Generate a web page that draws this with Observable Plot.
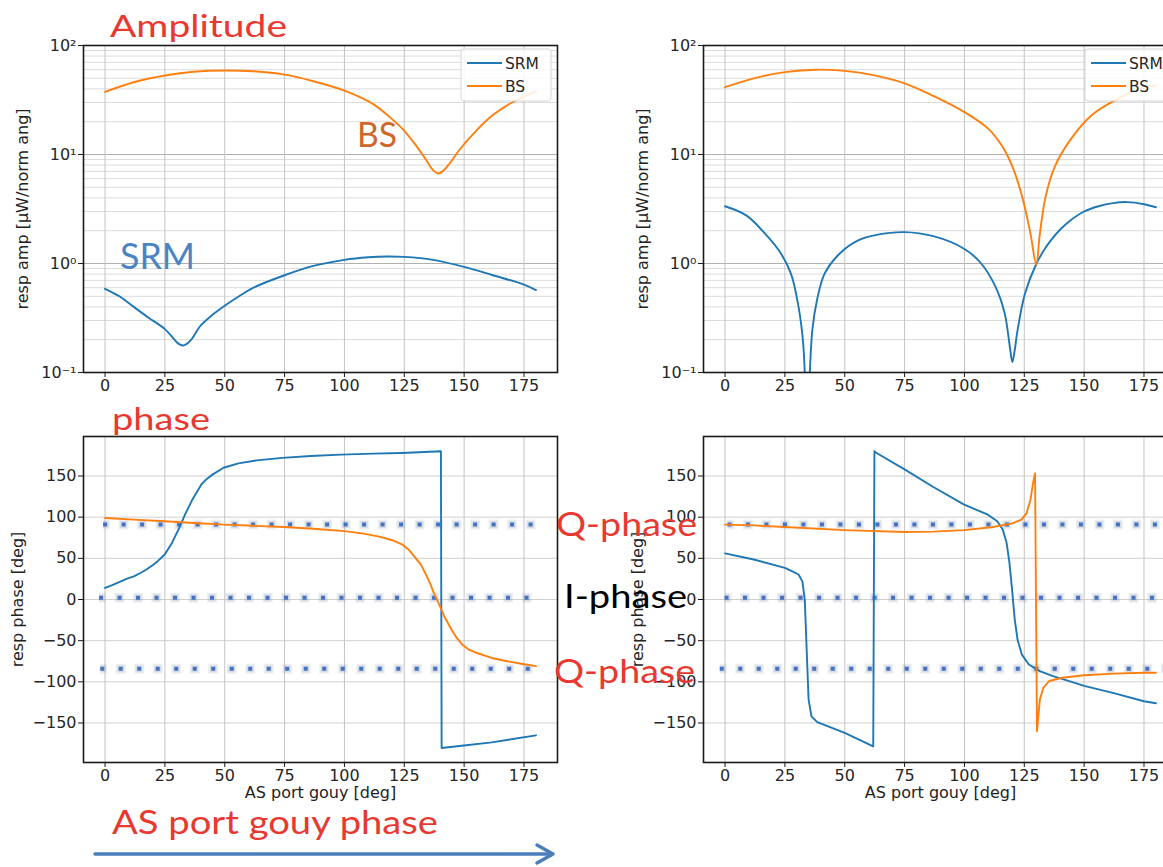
<!DOCTYPE html>
<html>
<head>
<meta charset="utf-8">
<script src="https://cdn.jsdelivr.net/npm/d3@7"></script>
<script src="https://cdn.jsdelivr.net/npm/@observablehq/plot@0.6"></script>
<style>
html, body { margin: 0; padding: 0; background: #fff; overflow: hidden; width: 1163px; height: 867px; }
#root { position: relative; width: 1163px; height: 867px; overflow: hidden; background: #fff; }
.panel { position: absolute; }
#overlay { position: absolute; left: 0; top: 0; z-index: 5; }
</style>
</head>
<body>
<div id="root"></div>
<script>
// ---------------- data ----------------
const seriesNames = ["SRM", "BS"];
const xTicks = [0, 25, 50, 75, 100, 125, 150, 175];
const ampTicks = [0.1, 1, 10, 100];
const ampTickLabels = ["10\u207B\u00B9", "10\u2070", "10\u00B9", "10\u00B2"];
const ampMinor = [0.2, 0.3, 0.4, 0.5, 0.6, 0.7, 0.8, 0.9, 2, 3, 4, 5, 6, 7, 8, 9, 20, 30, 40, 50, 60, 70, 80, 90];
const phaseTicks = [-150, -100, -50, 0, 50, 100, 150];

// Amplitude, left panel
const ampL_SRM_x = [0, 6, 12, 18, 25, 29, 30.5, 32.5, 34, 36, 40, 45, 50, 56, 62, 75, 87, 100, 110, 118, 125, 137, 150, 162, 175, 180];
const ampL_SRM_y = [0.586, 0.5, 0.4, 0.32, 0.25, 0.2, 0.185, 0.177, 0.182, 0.2, 0.27, 0.34, 0.41, 0.5, 0.6, 0.78, 0.95, 1.08, 1.14, 1.16, 1.15, 1.08, 0.93, 0.78, 0.64, 0.57];
const ampL_BS_x = [0, 12, 25, 37, 50, 62, 75, 87, 100, 112, 120, 125, 130, 134, 137, 139, 141, 144, 148, 155, 162, 170, 180];
const ampL_BS_y = [37.5, 46, 53, 57.5, 59, 58, 54, 47, 38.5, 29, 21, 16.5, 12, 9, 7.2, 6.7, 7.0, 8.3, 11, 16.5, 23, 30, 38];

// Amplitude, right panel
const ampR_SRM_x = [0, 9, 16.8, 23, 27.6, 30.7, 32.5, 33.5, 34.3, 35.2, 36.5, 38.4, 41.5, 47.8, 55.6, 63.3, 75, 87, 100, 107, 113, 116.8, 119, 120, 121, 122, 125.3, 130, 133, 136, 140, 144, 150, 156, 162, 168, 175, 180];
const ampR_SRM_y = [3.35, 2.75, 1.87, 1.27, 0.8, 0.4, 0.2, 0.08, 0.03, 0.08, 0.25, 0.46, 0.8, 1.23, 1.63, 1.83, 1.94, 1.78, 1.36, 1.0, 0.61, 0.35, 0.17, 0.125, 0.16, 0.23, 0.53, 0.99, 1.3, 1.62, 2.05, 2.46, 3.0, 3.35, 3.58, 3.66, 3.5, 3.28];
const ampR_BS_x = [0, 12, 25, 38, 50, 62, 75, 87, 100, 110, 116, 120.7, 124.5, 127.6, 130, 131.5, 133.9, 137.7, 144, 153, 164, 175, 180];
const ampR_BS_y = [41.5, 50, 57, 60, 58.5, 53.5, 45, 34.5, 24.5, 17.2, 11.7, 7.1, 3.8, 1.87, 0.98, 1.87, 4.1, 7.7, 13.4, 22.8, 32.4, 41, 43];

// Phase, left panel
const phL_SRM_x = [0, 3, 6.6, 9, 12, 15, 17.3, 20, 22, 25, 28, 31, 33.4, 36.5, 40.3, 42.5, 45, 49.5, 55.7, 63.4, 74, 86, 98.6, 112, 124, 140.3, 140.6, 149, 161.5, 180];
const phL_SRM_y = [14, 17.5, 22, 25, 28, 32.5, 36.5, 42, 46.6, 55, 69, 87, 103, 121.6, 140, 146.5, 152, 160, 165.4, 169, 172, 174.3, 176, 177.2, 178, 180, -180.4, -177.6, -173.5, -165];
const phL_BS_x = [0, 12, 25, 37, 50, 62, 75, 87, 100, 108, 115, 120, 124, 127, 129, 132, 134.4, 136, 137.3, 139.3, 141.6, 144.7, 147, 149.3, 152, 155.4, 161.5, 168, 173.8, 180];
const phL_BS_y = [99, 97, 95, 93, 91, 89.5, 88, 86, 83, 80, 76, 72, 67, 60, 53, 42, 28, 18, 8, -4, -20, -36.5, -47, -55, -61, -65, -71, -75, -78, -81];

// Phase, right panel
const phR_SRM_x = [0, 12, 25, 29, 30.7, 32.3, 33.3, 34.1, 34.9, 36.1, 38.5, 50, 61.9, 62.4, 63.3, 75, 87, 99.7, 109.8, 113.7, 116, 117.6, 118.8, 119.9, 121, 122.2, 124, 126.9, 131.5, 137, 140.8, 150, 162, 175, 180];
const phR_SRM_y = [56, 48.6, 38.5, 33, 30.4, 22, 0, -61, -121.6, -142, -149, -162, -178.4, 180, 178, 158, 136.6, 115.5, 103, 95, 85, 69, 44.6, 12, -24, -49, -67, -79, -87, -93, -96.5, -105, -113.5, -123.6, -126];
const phR_BS_x = [0, 12, 25, 50, 75, 87, 100, 112, 120, 123.8, 126, 127.6, 128.7, 129.5, 130.3, 131.5, 133, 135.4, 140.8, 150, 162, 175, 180];
const phR_BS_y = [91, 90, 88, 84.3, 82, 82.5, 84.3, 88, 92.4, 97, 105, 121.6, 142, 153, -160, -121.6, -107, -99, -95, -92, -90, -89, -89];

// Dotted reference rows (Q-phase, I-phase, Q-phase)
const refLevels = [91, 2, -84];
const refStartL = [-0.6, -2.3, -1.8];
const refEndL = [181.2, 180, 180.4];
const refStartR = [1.2, 0, -2];
const refEndR = [200, 200, 200];

// Annotation texts
const annoTexts = ["Amplitude", "BS", "SRM", "phase", "Q-phase", "I-phase", "Q-phase", "AS port gouy phase"];
const xLabel = "AS port gouy [deg]";
const yLabelAmp = "resp amp [\u03BCW/norm ang]";
const yLabelPhase = "resp phase [deg]";

// ---------------- rendering ----------------
const colors = {SRM: "#1f77b4", BS: "#ff7f0e"};
const root = document.getElementById("root");
const fmtMinus = d => d < 0 ? "\u2212" + Math.abs(d) : String(d);
const rows = (xs, ys) => xs.map((x, i) => ({x, y: ys[i]}));

function makePanel({kind, left, top, srm, bs, refStart, refEnd}) {
  const isAmp = kind === "amp";
  const marks = [];
  if (isAmp) {
    marks.push(Plot.ruleY(ampMinor, {stroke: "#dcdcdc", strokeWidth: 1}));
    marks.push(Plot.ruleY(ampTicks, {stroke: "#b0b0b0", strokeWidth: 1}));
  } else {
    marks.push(Plot.ruleY(phaseTicks, {stroke: "#d0d0d0", strokeWidth: 1}));
  }
  marks.push(Plot.ruleX(xTicks, {stroke: "#c4c4c4", strokeWidth: 1}));
  if (!isAmp) {
    const refRows = refLevels.map((y, i) => ({y, x1: refStart[i], x2: refEnd[i]}));
    marks.push(Plot.ruleY(refRows, {y: "y", x1: "x1", x2: "x2", stroke: "#8e9ab3", strokeOpacity: 0.16, strokeWidth: 10, strokeDasharray: "10 8.5", strokeDashoffset: 3}));
    marks.push(Plot.ruleY(refRows, {y: "y", x1: "x1", x2: "x2", stroke: "#8e9ab3", strokeOpacity: 0.22, strokeWidth: 7, strokeDasharray: "7 11.5", strokeDashoffset: 1.5}));
    marks.push(Plot.ruleY(refRows, {y: "y", x1: "x1", x2: "x2", stroke: "#4472c4", strokeWidth: 4, strokeDasharray: "4 14.5"}));
  }
  const curve = isAmp ? "catmull-rom" : "linear";
  marks.push(Plot.line(srm, {x: "x", y: "y", stroke: colors.SRM, strokeWidth: 1.9, curve, clip: true}));
  marks.push(Plot.line(bs, {x: "x", y: "y", stroke: colors.BS, strokeWidth: 1.9, curve, clip: true}));
  marks.push(Plot.frame({stroke: "#1a1a1a", strokeWidth: 1.6}));
  marks.push(Plot.axisX(xTicks, {tickSize: 5, tickPadding: 2, label: null, tickFormat: fmtMinus, fill: "#262626", stroke: "#1a1a1a"}));
  if (isAmp) {
    marks.push(Plot.axisY(ampTicks, {tickSize: 5, tickPadding: 2, label: null, tickFormat: d => ampTickLabels[ampTicks.indexOf(d)], fill: "#262626", stroke: "#1a1a1a"}));
    marks.push(Plot.text([yLabelAmp], {text: d => d, frameAnchor: "left", textAnchor: "middle", rotate: -90, dx: -61, fill: "#222", fontSize: 16}));
  } else {
    marks.push(Plot.axisY(phaseTicks, {tickSize: 5, tickPadding: 2, label: null, tickFormat: fmtMinus, fill: "#262626", stroke: "#1a1a1a"}));
    marks.push(Plot.text([yLabelPhase], {text: d => d, frameAnchor: "left", textAnchor: "middle", rotate: -90, dx: -66, fill: "#222", fontSize: 16}));
    marks.push(Plot.text([xLabel], {text: d => d, frameAnchor: "bottom", dy: 35, fill: "#222", fontSize: 16}));
  }
  const chart = Plot.plot({
    width: 580,
    height: isAmp ? 400 : 420,
    marginLeft: 83,
    marginRight: 23,
    marginTop: isAmp ? 45 : 36,
    marginBottom: isAmp ? 28 : 58,
    style: {fontFamily: "'DejaVu Sans', sans-serif", fontSize: "16px", background: "transparent", overflow: "visible"},
    x: {domain: [-9, 189]},
    y: isAmp ? {type: "log", domain: [0.1, 100]} : {domain: [-198, 198]},
    marks
  });
  chart.classList.add("panel");
  chart.style.left = left + "px";
  chart.style.top = top + "px";
  root.appendChild(chart);
}

makePanel({kind: "amp", left: 0, top: 0, srm: rows(ampL_SRM_x, ampL_SRM_y), bs: rows(ampL_BS_x, ampL_BS_y)});
makePanel({kind: "amp", left: 620, top: 0, srm: rows(ampR_SRM_x, ampR_SRM_y), bs: rows(ampR_BS_x, ampR_BS_y)});
makePanel({kind: "phase", left: 0, top: 400, srm: rows(phL_SRM_x, phL_SRM_y), bs: rows(phL_BS_x, phL_BS_y), refStart: refStartL, refEnd: refEndL});
makePanel({kind: "phase", left: 620, top: 400, srm: rows(phR_SRM_x, phR_SRM_y), bs: rows(phR_BS_x, phR_BS_y), refStart: refStartR, refEnd: refEndR});

// ---------------- overlay: legends and slide annotations ----------------
const svg = d3.select(root).append("svg").attr("id", "overlay").attr("width", 1163).attr("height", 867);

function legend(x0, y0) {
  const g = svg.append("g").attr("font-family", "'DejaVu Sans', sans-serif").attr("font-size", 15.5);
  g.append("rect").attr("x", x0).attr("y", y0).attr("width", 90).attr("height", 52).attr("rx", 3)
    .attr("fill", "#fff").attr("fill-opacity", 0.85).attr("stroke", "#d6d6d6");
  seriesNames.forEach((name, i) => {
    const y = y0 + 14 + i * 23;
    g.append("line").attr("x1", x0 + 6).attr("x2", x0 + 41).attr("y1", y).attr("y2", y)
      .attr("stroke", colors[name]).attr("stroke-width", 1.9);
    g.append("text").attr("x", x0 + 44).attr("y", y + 5.5).attr("fill", "#262626").text(name);
  });
}
legend(461, 49);
legend(1085, 49);

const red = "#e8382f";
const anno = [
  {x: 110, y: 37, size: 31, len: 177, fill: red},
  {x: 357, y: 147, size: 35, len: 40, fill: "#cf672c"},
  {x: 120, y: 269, size: 36, len: 75, fill: "#4a84c4"},
  {x: 112, y: 430, size: 31, len: 98, fill: red},
  {x: 556, y: 536, size: 33, len: 141, fill: red},
  {x: 564, y: 608, size: 32, len: 123, fill: "#000"},
  {x: 554, y: 683, size: 32, len: 141, fill: red},
  {x: 112, y: 834, size: 33, len: 326, fill: red}
];
anno.forEach((a, i) => {
  svg.append("text").attr("x", a.x).attr("y", a.y)
    .attr("font-family", "Lato, 'Open Sans', sans-serif").attr("font-size", a.size)
    .attr("fill", a.fill)
    .attr("textLength", a.len).attr("lengthAdjust", "spacingAndGlyphs")
    .text(annoTexts[i]);
});

// arrow under the bottom-left panel
const arrow = svg.append("g").attr("stroke", "#4a7ebb").attr("stroke-width", 3.5).attr("fill", "none").attr("stroke-linecap", "round");
arrow.append("line").attr("x1", 95).attr("x2", 551).attr("y1", 854).attr("y2", 854);
arrow.append("polyline").attr("points", "537,845 553,854 537,863").attr("stroke-linejoin", "round");
</script>
</body>
</html>
